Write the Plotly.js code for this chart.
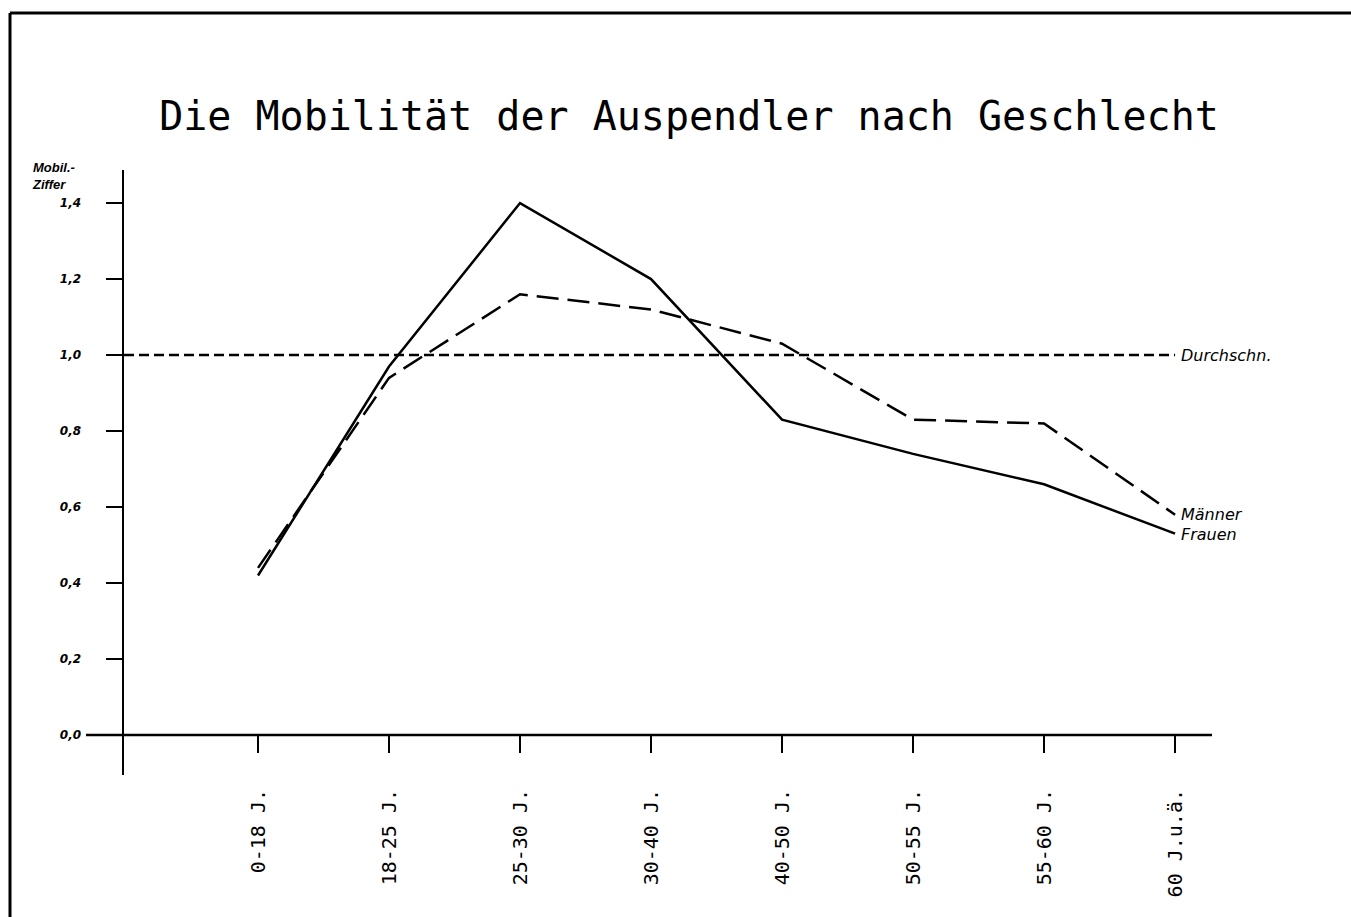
<!DOCTYPE html>
<html>
<head>
<meta charset="utf-8">
<script src="https://cdn.plot.ly/plotly-3.0.1.min.js"></script>
<style>
  html, body { margin: 0; padding: 0; background: #fff; }
  #chart { width: 1351px; height: 917px; }
</style>
</head>
<body>
<div id="chart"></div>
<script>
// ---- data ----
var categories = ["0-18 J.", "18-25 J.", "25-30 J.", "30-40 J.", "40-50 J.", "50-55 J.", "55-60 J.", "60 J.u.ä."];
var maenner = [0.44, 0.94, 1.16, 1.12, 1.03, 0.83, 0.82, 0.58];
var frauen  = [0.42, 0.97, 1.40, 1.20, 0.83, 0.74, 0.66, 0.53];
var durchschnitt = 1.0;
var yTickVals = [0.0, 0.2, 0.4, 0.6, 0.8, 1.0, 1.2, 1.4];
var yTickText = ["0,0", "0,2", "0,4", "0,6", "0,8", "1,0", "1,2", "1,4"];
var titleText = "Die Mobilität der Auspendler nach Geschlecht";
var yAxisLabel = "Mobil.-<br>Ziffer";
var seriesLabels = ["Männer", "Frauen", "Durchschn."];

// ---- layout geometry ----
var W = 1351, H = 917;
var M = { l: 124, r: 139, t: 170, b: 142 };
var pw = W - M.l - M.r, ph = H - M.t - M.b;
function px(x) { return (x - M.l) / pw; }          // container px -> paper x
function py(y) { return (H - M.b - y) / ph; }      // container px -> paper y
var xRange = [-1.023, 7.282];
var yRange = [-0.105, 1.487];
var idx = categories.map(function (c, i) { return i; });

var traces = [
  {
    x: idx, y: frauen, type: "scatter", mode: "lines", name: seriesLabels[1],
    line: { color: "#000", width: 2.5 }, hoverinfo: "skip"
  },
  {
    x: idx, y: maenner, type: "scatter", mode: "lines", name: seriesLabels[0],
    line: { color: "#000", width: 2.5, dash: "22px,9px" }, hoverinfo: "skip"
  }
];

var lblFont = { family: "DejaVu Sans", size: 16, color: "#000", style: "italic" };

var layout = {
  width: W, height: H,
  margin: M,
  paper_bgcolor: "#fff", plot_bgcolor: "#fff",
  showlegend: false,
  title: {
    text: titleText,
    font: { family: "DejaVu Sans Mono", size: 40, color: "#000", weight: 300 },
    x: 0.51, xanchor: "center", xref: "container",
    y: 1 - 116 / H, yanchor: "middle", yref: "container"
  },
  xaxis: {
    type: "linear", range: xRange,
    tickvals: idx, ticktext: categories,
    tickangle: -90,
    ticks: "outside", ticklen: 17, tickwidth: 1.5, tickcolor: "#000",
    anchor: "free", position: py(735),
    showline: false, zeroline: false, showgrid: false,
    ticklabelstandoff: 28,
    tickfont: { family: "DejaVu Sans Mono", size: 20, color: "#000" }
  },
  yaxis: {
    range: yRange,
    tickvals: yTickVals, ticktext: yTickText,
    ticks: "outside", ticklen: 16, tickwidth: 2, tickcolor: "#000",
    showline: true, linewidth: 2.5, linecolor: "#000",
    zeroline: false, showgrid: false,
    ticklabelstandoff: 22,
    tickfont: { family: "DejaVu Sans", size: 12, color: "#000", weight: "bold", style: "italic" }
  },
  shapes: [
    // x axis line crossing the y axis
    { type: "line", xref: "paper", yref: "y", x0: px(86), x1: 1, y0: 0, y1: 0,
      line: { color: "#000", width: 2.5 } },
    // average line
    { type: "line", xref: "x", yref: "y", x0: xRange[0], x1: categories.length - 1,
      y0: durchschnitt, y1: durchschnitt,
      line: { color: "#000", width: 2.5, dash: "10px,5px" } },
    // frame (left and top)
    { type: "line", xref: "paper", yref: "paper", x0: px(10), x1: px(10), y0: py(13), y1: py(H + 5),
      line: { color: "#000", width: 3 } },
    { type: "line", xref: "paper", yref: "paper", x0: px(10), x1: px(W + 5), y0: py(13), y1: py(13),
      line: { color: "#000", width: 3 } }
  ],
  annotations: [
    { text: yAxisLabel, xref: "paper", yref: "paper", x: px(30), y: py(158),
      xanchor: "left", yanchor: "top", align: "left", showarrow: false,
      font: { family: "Liberation Sans", size: 13, color: "#000", weight: "bold", style: "italic" } },
    { text: seriesLabels[2], xref: "x", yref: "y", x: categories.length - 1, y: durchschnitt,
      xanchor: "left", yanchor: "middle", xshift: 4, showarrow: false, font: lblFont },
    { text: seriesLabels[0], xref: "x", yref: "y", x: categories.length - 1, y: maenner[maenner.length - 1],
      xanchor: "left", yanchor: "middle", xshift: 4, yshift: 0, showarrow: false, font: lblFont },
    { text: seriesLabels[1], xref: "x", yref: "y", x: categories.length - 1, y: frauen[frauen.length - 1],
      xanchor: "left", yanchor: "middle", xshift: 4, yshift: -1, showarrow: false, font: lblFont }
  ]
};

Plotly.newPlot("chart", traces, layout, { displayModeBar: false, staticPlot: true });
</script>
</body>
</html>
